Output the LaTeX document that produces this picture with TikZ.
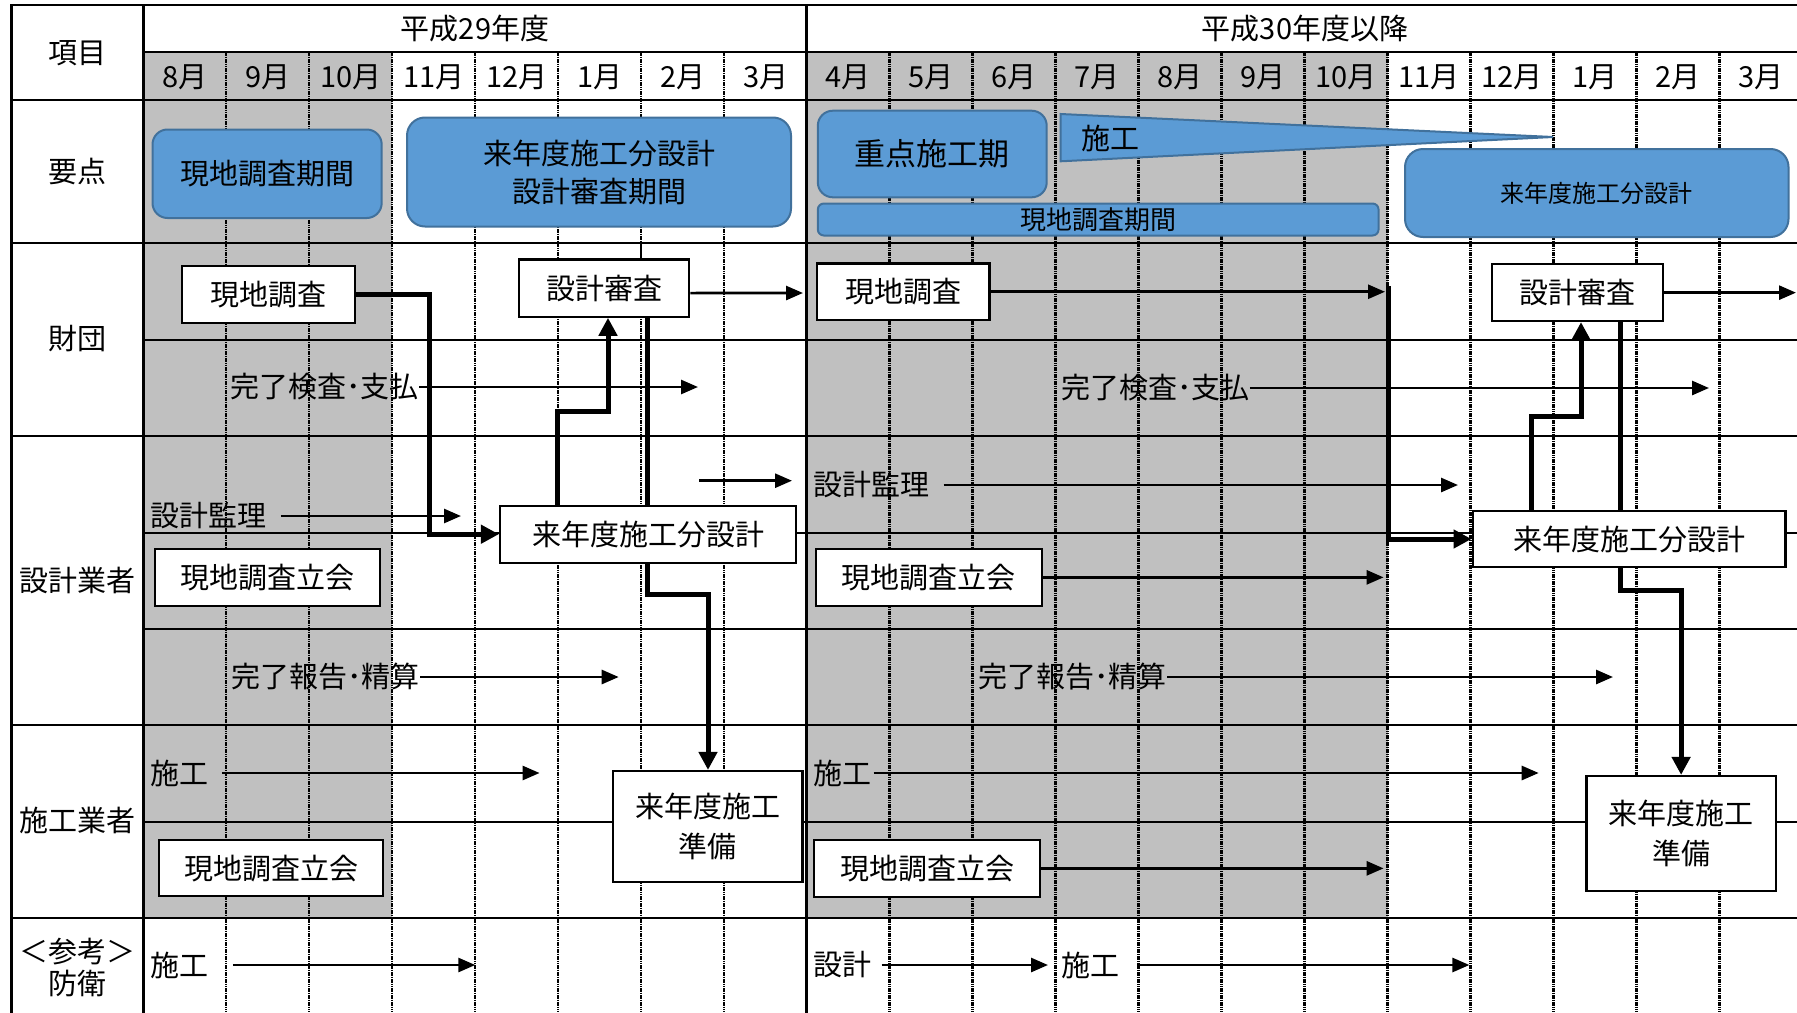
\documentclass[tikz,border=0pt]{standalone}
\usepackage{fontspec}
\setmainfont{Noto Sans CJK JP}
\usetikzlibrary{arrows.meta}
\definecolor{cellgray}{RGB}{192,192,192}
\definecolor{bfill}{RGB}{91,155,213}
\definecolor{bline}{RGB}{65,113,156}
\begin{document}
\begin{tikzpicture}[x=0.5pt,y=-0.5pt,
  every node/.style={font=\fontsize{14.5}{19}\selectfont, inner sep=0pt},
  wbox/.style={draw=black, fill=white, line width=1.1pt, align=center},
  bbox/.style={draw=bline, fill=bfill, line width=1pt, rounded corners=8pt, align=center},
  major/.style={line width=1.35pt, line cap=rect},
  minor/.style={line width=0.65pt},
  dotsep/.style={line width=1.1pt, dash pattern=on 0.8pt off 0.35pt},
  thn/.style={line width=1.35pt, -{Triangle[length=8.5pt,width=7pt]}},
  thk/.style={line width=2.5pt, -{Triangle[length=9pt,width=9pt]}},
  thkline/.style={line width=2.5pt},
  lbl/.style={anchor=west},
]
\useasboundingbox (0,0) rectangle (1797,1012);
\clip (0,0) rectangle (1797,1012);
\fill[white] (0,0) rectangle (1797,1012);

% gray shading
\fill[cellgray] (143.3,52) rectangle (392.3,918);
\fill[cellgray] (806.5,52) rectangle (1387.5,918);

% dotted month separators
\foreach \xx in {226.3,309.3,392.3,475.3,558.3,641.3,724.3}
  \draw[dotsep] (\xx,52) -- (\xx,1012);
\foreach \k in {1,...,11}
  \draw[dotsep] ({806.5+83*\k},52) -- ({806.5+83*\k},1012);

% thin horizontal lines
\foreach \yy in {340,533,629}
  \draw[minor] (143.3,\yy) -- (1797,\yy);

% major lines
\draw[major] (11.5,5) -- (1797,5);
\draw[line width=1pt] (143.3,52) -- (1797,52);
\foreach \yy in {100,243,436,725,918}
  \draw[major] (11.5,\yy) -- (1797,\yy);
\draw[line width=1.15pt] (143.3,822) -- (1797,822);
\foreach \xx in {11.5,143.3,806.5}
  \draw[major] (\xx,5) -- (\xx,1012);

% label column
\node (hL0) at (77,53) {項目};
\node (hL1) at (77,172) {要点};
\node (hL2) at (77,339) {財団};
\node (hL3) at (77,580) {設計業者};
\node (hL4) at (77,820) {施工業者};
\node[align=center, font=\fontsize{14.5}{16}\selectfont] (hL5) at (77,967) {＜参考＞\\防衛};

% fiscal year headers
\node (fy29) at (475,29) {平成29年度};
\node (fy30) at (1305,29) {平成30年度以降};

% months
\foreach \m [count=\i from 0] in {8,9,10,11,12,1,2,3}
  \node (ma\i) at ({184.8+83*\i},77) {{\m}月};
\foreach \m [count=\i from 0] in {4,5,6,7,8,9,10,11,12,1,2,3}
  \node (mb\i) at ({848+83*\i},77) {{\m}月};

% key points row (blue)
\node[bbox, minimum width=114.6pt, minimum height=44.25pt, rounded corners=7.5pt] (p1) at (267.1,173.75) {現地調査期間};
\node[bbox, minimum width=192pt, minimum height=54.5pt, rounded corners=9pt] (p2) at (599,172) {来年度施工分設計\\設計審査期間};
\node[bbox, minimum width=114.45pt, minimum height=43.3pt, rounded corners=7.5pt, font=\fontsize{15.5}{19}\selectfont] (p3) at (932.25,154) {重点施工期};
\draw[draw=bline, fill=bfill, line width=1pt] (1060.6,114) coordinate (tr1) -- (1553,137) coordinate (tr2) -- (1060.6,161.3) coordinate (tr3) -- cycle;
\node (p4) at (1110,138) {施工};
\node[bbox, minimum width=280.35pt, minimum height=16pt, rounded corners=3pt, font=\fontsize{13}{15}\selectfont] (p5) at (1098.2,219.5) {現地調査期間};
\node[bbox, minimum width=191.75pt, minimum height=44pt, rounded corners=9pt, font=\fontsize{12}{15}\selectfont] (p6) at (1596.75,193) {来年度施工分設計};

% white boxes
\node[wbox, minimum width=86.3pt, minimum height=28.35pt] (a1) at (268.3,294.35) {現地調査};
\node[wbox, minimum width=85.25pt, minimum height=28.6pt] (a2) at (604,288.1) {設計審査};
\node[wbox, minimum width=86.2pt, minimum height=28.25pt] (a3) at (903.2,291.75) {現地調査};
\node[wbox, minimum width=85.5pt, minimum height=28.35pt] (a4) at (1577.2,292.65) {設計審査};
\node[wbox, minimum width=148pt, minimum height=28.5pt] (b1) at (648,534.2) {来年度施工分設計};
\node[wbox, minimum width=112.35pt, minimum height=28.35pt] (b2) at (267.65,577.35) {現地調査立会};
\node[wbox, minimum width=156.4pt, minimum height=28.3pt] (b3) at (1629,539) {来年度施工分設計};
\node[wbox, minimum width=112.8pt, minimum height=28.35pt] (b4) at (928.8,577.35) {現地調査立会};
\node[wbox, minimum width=94.75pt, minimum height=55.35pt, font=\fontsize{14.5}{20}\selectfont] (c1) at (707.75,826.35) {来年度施工\\準備};
\node[wbox, minimum width=112pt, minimum height=28.15pt] (c2) at (271,868.15) {現地調査立会};
\node[wbox, minimum width=113.15pt, minimum height=28.35pt] (c3) at (927.15,868.35) {現地調査立会};
\node[wbox, minimum width=94.7pt, minimum height=57.5pt, font=\fontsize{14.5}{20}\selectfont] (c4) at (1681.1,833.5) {来年度施工\\準備};

% short solid separator segment above 設計審査
\coordinate (s6) at (641.3,243);
\draw[line width=1pt] (s6) -- (s6 |- a2.north);

% text labels
\node[lbl] (t1) at (230,387) {完了検査･支払};
\node[lbl] (t2) at (1060.6,388) {完了検査･支払};
\node[lbl] (t3) at (150,516) {設計監理};
\node[lbl] (t4) at (812.7,485) {設計監理};
\node[lbl] (t5) at (231,677) {完了報告･精算};
\node[lbl] (t6) at (978,677) {完了報告･精算};
\node[lbl] (t7) at (150,773) {施工};
\node[lbl] (t8) at (812.7,773) {施工};
\node[lbl] (t9) at (150,965) {施工};
\node[lbl] (t10) at (812.7,965) {設計};
\node[lbl] (t11) at (1060.6,965) {施工};

% free ends of thin arrows
\coordinate (e1) at (803,293);
\coordinate (e2) at (698,387);
\coordinate (e3) at (1385,291.75);
\coordinate (e4) at (1796,292.65);
\coordinate (e5) at (1709,388);
\coordinate (e6) at (461,516);
\coordinate (e7) at (1458,485);
\coordinate (f1) at (699,480.7);
\coordinate (f2) at (792,480.7);
\coordinate (e8) at (618.7,677);
\coordinate (e9) at (1613,677);
\coordinate (e10) at (1383.6,577.35);
\coordinate (e11) at (539.6,773);
\coordinate (e12) at (1538.7,773);
\coordinate (e13) at (1383.6,868.35);
\coordinate (e14) at (475.3,965);
\coordinate (e15) at (1048,965);
\coordinate (e16) at (1469.4,965);

% thin arrows
\draw[thn] ([yshift=-2.5pt]a2.east) -- (e1);
\draw[thn] (t1.east) -- (e2);
\draw[thn] (a3.east) -- (e3);
\draw[thn] (a4.east) -- (e4);
\draw[thn] (t2.east) -- (e5);
\draw[thn] ([xshift=7pt]t3.east) -- (e6);
\draw[thn] ([xshift=7pt]t4.east) -- (e7);
\draw[thn] (f1) -- (f2);
\draw[thn] (t5.east) -- (e8);
\draw[thn] (t6.east) -- (e9);
\draw[thn] (b4.east) -- (e10);
\draw[thn] ([xshift=6.5pt]t7.east) -- (e11);
\draw[thn] ([xshift=1pt]t8.east) -- (e12);
\draw[thn] (c3.east) -- (e13);
\draw[thn] ([xshift=12pt]t9.east) -- (e14);
\draw[thn] ([xshift=5pt]t10.east) -- (e15);
\draw[thn] ([xshift=9pt]t11.east) -- (e16);

% thick connectors FY29
\coordinate (j1) at (429,294.35);
\draw[thk] (a1.east) -- (j1) -- (j1 |- b1.west) -- (b1.west);
\coordinate (j2) at (557.5,411.7);
\coordinate (j3) at (608,411.7);
\draw[thk] (b1.north -| j2) -- (j2) -- (j3) -- (j3 |- a2.south);
\coordinate (j4) at (647,594);
\coordinate (j5) at (708,594);
\draw[thkline] (a2.south -| j4) -- (b1.north -| j4);
\draw[thk] (b1.south -| j4) -- (j4) -- (j5) -- (j5 |- c1.north);

% thick connectors FY30
\coordinate (j6) at (1388.7,286);
\draw[thk] (j6) -- (j6 |- b3.west) -- (b3.west);
\coordinate (j7) at (1531,416.7);
\coordinate (j8) at (1581,416.7);
\draw[thk] (b3.north -| j7) -- (j7) -- (j8) -- (j8 |- a4.south);
\coordinate (j9) at (1620.5,590);
\coordinate (j10) at (1681.1,590);
\draw[thkline] (a4.south -| j9) -- (b3.north -| j9);
\draw[thk] (b3.south -| j9) -- (j9) -- (j10) -- (j10 |- c4.north);
\end{tikzpicture}
\end{document}
